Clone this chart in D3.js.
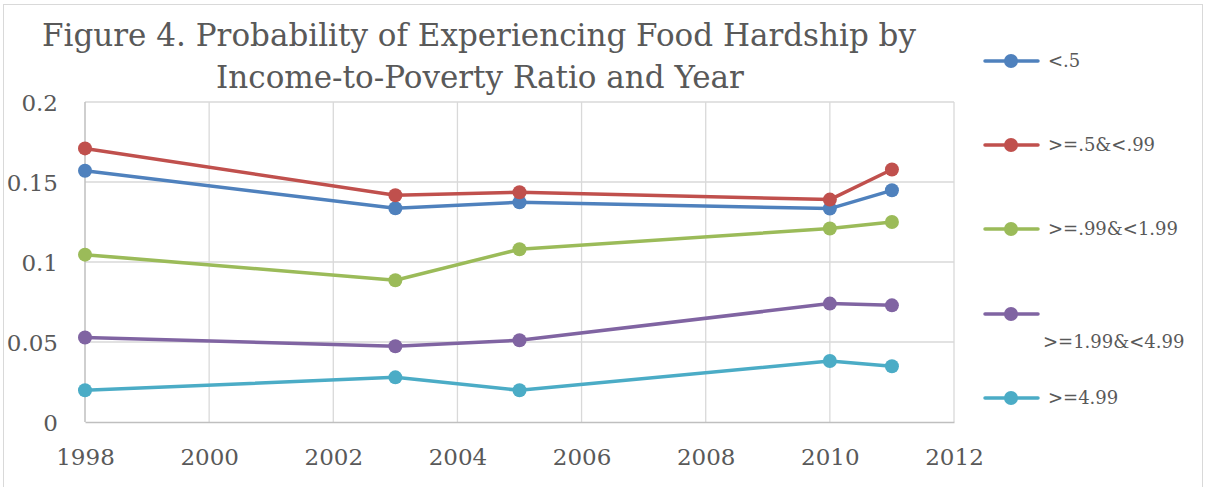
<!DOCTYPE html>
<html>
<head>
<meta charset="utf-8">
<script src="https://cdn.jsdelivr.net/npm/d3@7/dist/d3.min.js"></script>
<style>
    body { margin: 0; background: #fff; }
    text { font-family: "DejaVu Serif", "Liberation Serif", serif; fill: #595959; }
    .grid line { stroke: #d9d9d9; stroke-width: 1.3; }
    .axis path, .axis line { stroke: #bfbfbf; stroke-width: 1.5; }
</style>
</head>
<body>
<svg id="chart"></svg>
<script>
    var years = [1998, 2003, 2005, 2010, 2011];
    var seriesNames = ["<.5", ">=.5&<.99", ">=.99&<1.99", ">=1.99&<4.99", ">=4.99"];
    var lt05 = [0.157, 0.1336, 0.1373, 0.1334, 0.1448];
    var lt099 = [0.171, 0.1417, 0.1436, 0.139, 0.1578];
    var lt199 = [0.1046, 0.0886, 0.108, 0.1209, 0.125];
    var lt499 = [0.0528, 0.0473, 0.0511, 0.074, 0.0729];
    var ge499 = [0.0198, 0.0279, 0.0198, 0.0381, 0.0348];
    var xTicks = [1998, 2000, 2002, 2004, 2006, 2008, 2010, 2012];
    var yTicks = [0, 0.05, 0.1, 0.15, 0.2];
    var colors = ["#4f81bd", "#c0504d", "#9bbb59", "#8064a2", "#4bacc6"];

    var W = 1206, H = 487;
    var margin = { top: 102, left: 85, bottom: 65, right: 252 },
        width = W - margin.left - margin.right,
        height = H - margin.top - margin.bottom;

    var svg = d3.select("#chart").attr("width", W).attr("height", H);

    svg.append("rect")
        .attr("x", 3.5).attr("y", 4.5)
        .attr("width", 1199).attr("height", 490)
        .attr("fill", "none").attr("stroke", "#d9d9d9");

    var title = svg.append("text")
        .attr("text-anchor", "middle")
        .style("font-size", "31px");
    title.append("tspan").attr("x", 479).attr("y", 46)
        .text("Figure 4. Probability of Experiencing Food Hardship by");
    title.append("tspan").attr("x", 480).attr("y", 88)
        .text("Income-to-Poverty Ratio and Year");

    var g = svg.append("g")
        .attr("transform", "translate(" + margin.left + "," + margin.top + ")");

    var x = d3.scaleLinear().domain([1998, 2012]).range([0, width]);
    var y = d3.scaleLinear().domain([0, 0.2]).range([height, 0]);

    g.append("g").attr("class", "grid")
        .selectAll("line").data(yTicks.slice(1)).enter().append("line")
        .attr("x1", 0).attr("x2", width)
        .attr("y1", function (d) { return y(d); })
        .attr("y2", function (d) { return y(d); });

    g.append("g").attr("class", "grid")
        .selectAll("line").data(xTicks.slice(1)).enter().append("line")
        .attr("x1", function (d) { return x(d); })
        .attr("x2", function (d) { return x(d); })
        .attr("y1", 0).attr("y2", height);

    var xAxis = d3.axisBottom(x).tickValues(xTicks).tickSize(0).tickFormat(d3.format("d"));
    var gx = g.append("g").attr("class", "axis")
        .attr("transform", "translate(0," + height + ")")
        .call(xAxis);
    gx.selectAll("text").attr("dy", 0).attr("y", 43).style("font-size", "23px");

    var yAxis = d3.axisLeft(y).tickValues(yTicks).tickSize(0)
        .tickFormat(function (d) { return String(d); });
    var gy = g.append("g").attr("class", "axis").call(yAxis);
    gy.select(".domain").attr("d", "M0,0V" + height);
    gy.selectAll("text").attr("x", -27).attr("dy", "0.35em").style("font-size", "23px");

    var allSeries = [lt05, lt099, lt199, lt499, ge499];
    var line = d3.line()
        .x(function (d, i) { return x(years[i]); })
        .y(function (d) { return y(d); });

    allSeries.forEach(function (vals, k) {
        g.append("path")
            .datum(vals)
            .attr("fill", "none")
            .attr("stroke", colors[k])
            .attr("stroke-width", 3.5)
            .attr("stroke-linejoin", "round")
            .attr("d", line);
        g.selectAll(".dot" + k)
            .data(vals).enter().append("circle")
            .attr("cx", function (d, i) { return x(years[i]); })
            .attr("cy", function (d) { return y(d); })
            .attr("r", 7)
            .attr("fill", colors[k]);
    });

    // legend
    var legendY = [61, 145, 229, 314, 398];
    var legend = svg.append("g");
    seriesNames.forEach(function (name, k) {
        var row = legend.append("g").attr("transform", "translate(0," + legendY[k] + ")");
        row.append("line")
            .attr("x1", 985).attr("x2", 1038)
            .attr("stroke", colors[k]).attr("stroke-width", 3.5)
            .attr("stroke-linecap", "round");
        row.append("circle").attr("cx", 1011).attr("r", 7).attr("fill", colors[k]);
        var t = row.append("text").style("font-size", "18px").attr("dy", "0.35em").text(name);
        if (k === 3) t.attr("x", 1043).attr("y", 28);
        else t.attr("x", 1048);
    });
</script>
</body>
</html>
